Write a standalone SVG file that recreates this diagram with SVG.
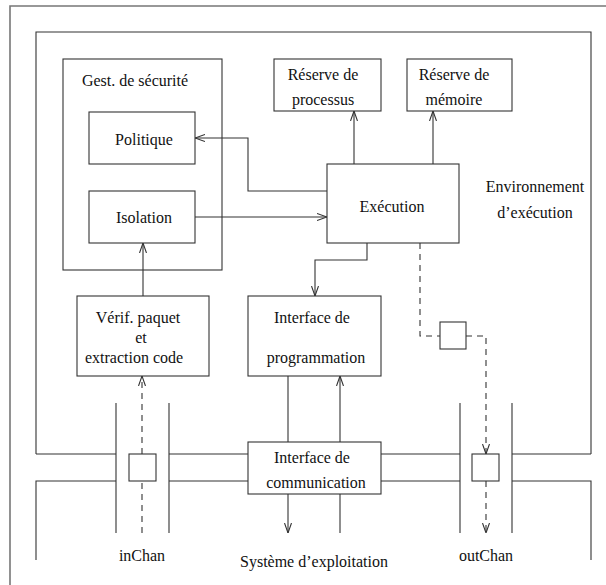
<svg xmlns="http://www.w3.org/2000/svg" width="606" height="585" viewBox="0 0 606 585">
<style>
.b{fill:#fff;stroke:#333;stroke-width:1.1}
.l{fill:none;stroke:#333;stroke-width:1.1}
.d{fill:none;stroke:#333;stroke-width:1.1;stroke-dasharray:6,5}
.a{marker-end:url(#ah)}
text{font-family:"Liberation Serif","Times New Roman",serif;font-size:16px;fill:#111;text-anchor:middle}
</style>
<defs>
<marker id="ah" viewBox="0 0 10 8" refX="10" refY="4" markerWidth="10" markerHeight="8" markerUnits="userSpaceOnUse" orient="auto">
<path d="M0,0.5 L10,4 L0,7.5" fill="none" stroke="#333" stroke-width="1.1"/>
</marker>
</defs>
<rect width="606" height="585" fill="#fff"/>
<g id="frame">
<path d="M10,585 V6 H606" fill="none" stroke="#777" stroke-width="1.6"/>
</g>
<g id="env">
<path class="l" d="M36,454 V32 H591 V454 M36,454 H116 M169,454 H248 M381,454 H460 M512,454 H591"/>
<text x="535" y="192">Environnement</text>
<text x="535" y="218">d’exécution</text>
</g>
<g id="os">
<path class="l" d="M36,560 V481 H116 M169,481 H248 M381,481 H460 M512,481 H591 V560"/>
<text x="314" y="567">Système d’exploitation</text>
</g>
<g id="inChan">
<path class="l" d="M116,403 V533 M169,403 V533"/>
<rect class="b" x="129" y="454" width="27" height="27"/>
<text x="142" y="561">inChan</text>
</g>
<g id="outChan">
<path class="l" d="M460,403 V533 M512,403 V533"/>
<rect class="b" x="472" y="454" width="27" height="27"/>
<text x="486" y="561">outChan</text>
</g>
<g id="gest">
<rect class="b" x="63" y="59" width="159" height="211"/>
<text x="135" y="86">Gest. de sécurité</text>
</g>
<g id="politique">
<rect class="b" x="89" y="112" width="106" height="52"/>
<text x="144" y="145">Politique</text>
</g>
<g id="isolation">
<rect class="b" x="89" y="191" width="106" height="52"/>
<text x="144" y="223">Isolation</text>
</g>
<g id="resProc">
<rect class="b" x="274" y="59" width="107" height="52"/>
<text x="323" y="80">Réserve de</text>
<text x="323" y="105">processus</text>
</g>
<g id="resMem">
<rect class="b" x="407" y="59" width="105" height="52"/>
<text x="454" y="80">Réserve de</text>
<text x="454" y="105">mémoire</text>
</g>
<g id="exec">
<rect class="b" x="327" y="164" width="132" height="79"/>
<text x="392" y="212">Exécution</text>
</g>
<g id="verif">
<rect class="b" x="77" y="296" width="132" height="80"/>
<text x="138" y="323">Vérif. paquet</text>
<text x="141" y="343">et</text>
<text x="134" y="363">extraction code</text>
</g>
<g id="prog">
<rect class="b" x="248" y="296" width="133" height="80"/>
<text x="312" y="323">Interface de</text>
<text x="316" y="363">programmation</text>
</g>
<g id="comm">
<rect class="b" x="248" y="442" width="133" height="52"/>
<text x="312" y="463">Interface de</text>
<text x="316" y="488">communication</text>
</g>
<g id="midBox">
<rect class="b" x="440" y="322" width="26" height="27"/>
</g>
<g id="connectors">
<path class="l a" d="M327,191 H248 V138 H195"/>
<path class="l a" d="M195,217 H327"/>
<path class="l a" d="M354,164 V111"/>
<path class="l a" d="M433,164 V111"/>
<path class="l a" d="M143,296 V243"/>
<path class="l a" d="M367,243 V260 H315 V296"/>
<path class="l" d="M288,376 V442"/>
<path class="l a" d="M340,442 V376"/>
<path class="l a" d="M288,494 V533"/>
<path class="l" d="M340,494 V533"/>
<path class="d" d="M142,533 V481"/>
<path class="d a" d="M142,454 V376"/>
<path class="d" d="M420,243 V336 H440"/>
<path class="d a" d="M466,336 H486 V454"/>
<path class="d a" d="M486,481 V533"/>
</g>
</svg>
